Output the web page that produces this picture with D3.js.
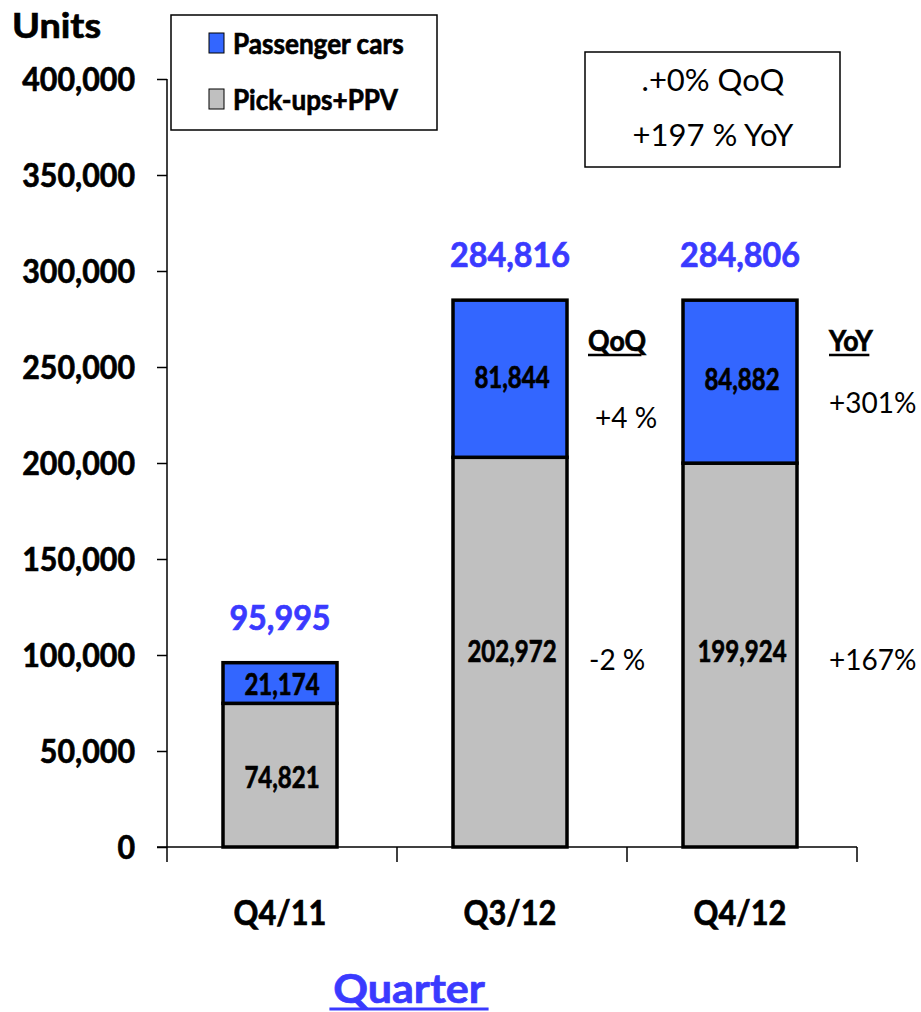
<!DOCTYPE html>
<html>
<head>
<meta charset="utf-8">
<script src="https://cdn.jsdelivr.net/npm/d3@7"></script>
<style>
  body { margin: 0; background: #fff; }
  text { font-family: Lato, "Liberation Sans", sans-serif; }
</style>
</head>
<body>
<div id="chart"></div>
<script>
// chart data
const quarters = ['Q4/11', 'Q3/12', 'Q4/12'];
const pickups = [74821, 202972, 199924];
const passenger = [21174, 81844, 84882];
const totals = [95995, 284816, 284806];
const yTicks = [0, 50000, 100000, 150000, 200000, 250000, 300000, 350000, 400000];
const qoq = ['-2 %', '+4 %'];   // pick-ups, passenger (Q3/12 -> Q4/12)
const yoy = ['+167%', '+301%'];
const summary = ['.+0% QoQ', '+197 % YoY'];
const seriesNames = ['Passenger cars', 'Pick-ups+PPV'];

const svgwidth = 921;
const svgheight = 1012;
const blue = '#3366ff';
const gray = '#c0c0c0';
const labelBlue = '#3a3aff';

// squeeze text horizontally (the original font is a narrow one)
function squeeze(sel, k) {
    sel.each(function () {
        const w = this.getComputedTextLength();
        d3.select(this).attr('textLength', w * k).attr('lengthAdjust', 'spacingAndGlyphs');
    });
    return sel;
}
// heavier bold look
const heavy = (sel, c) => sel.attr('stroke', c || '#000').attr('stroke-width', 0.7);

const svg = d3.select('#chart')
    .append('svg')
    .attr('width', svgwidth)
    .attr('height', svgheight);

const xscale = d3.scaleBand()
    .domain(quarters)
    .range([167, 857])
    .paddingInner(0)
    .paddingOuter(0);

const yscale = d3.scaleLinear()
    .domain([0, 400000])
    .range([847, 79]);

const barW = 114;
const barX = q => xscale(q) + (xscale.bandwidth() - barW) / 2 - 2;

// y axis
const yaxis = d3.axisLeft(yscale)
    .tickValues(yTicks)
    .tickSize(10)
    .tickFormat(d => d === 0 ? '0' : d3.format(',')(d));

const gy = svg.append('g')
    .attr('transform', 'translate(167,0)')
    .call(yaxis);
gy.select('.domain').attr('stroke', '#000').attr('stroke-width', 1.5)
    .attr('d', `M0,${yscale(400000)}V${yscale(0)}`);
gy.selectAll('.tick line').attr('stroke-width', 1.5);
const ytxt = gy.selectAll('.tick text')
    .attr('x', -32)
    .attr('dy', '0.36em')
    .style('font-size', '33px')
    .style('font-weight', 'bold')
    .attr('fill', '#000');
squeeze(ytxt, 0.92);
heavy(ytxt);

// x axis
const gx = svg.append('g')
    .attr('transform', `translate(0,${yscale(0)})`);
gx.append('line')
    .attr('x1', 157).attr('x2', 857)
    .attr('y1', 0).attr('y2', 0)
    .attr('stroke', '#000').attr('stroke-width', 1.5);
const xTickPos = quarters.map(q => xscale(q)).concat([xscale.range()[1]]);
gx.selectAll('.xt')
    .data(xTickPos)
    .join('line')
    .attr('x1', d => d).attr('x2', d => d)
    .attr('y1', 0).attr('y2', 15)
    .attr('stroke', '#000').attr('stroke-width', 1.5);
const xl = gx.selectAll('.xl')
    .data(quarters)
    .join('text')
    .attr('x', d => xscale(d) + xscale.bandwidth() / 2 - 2)
    .attr('y', 78)
    .attr('text-anchor', 'middle')
    .style('font-size', '35px')
    .style('font-weight', 'bold')
    .text(d => d);
squeeze(xl, 0.88);
heavy(xl);

// stacked bars
const g = svg.append('g');
g.selectAll('.pick')
    .data(quarters)
    .join('rect')
    .attr('x', d => barX(d))
    .attr('width', barW)
    .attr('y', (d, i) => yscale(pickups[i]))
    .attr('height', (d, i) => yscale(0) - yscale(pickups[i]))
    .attr('fill', gray)
    .attr('stroke', '#000')
    .attr('stroke-width', 3.5);

g.selectAll('.pass')
    .data(quarters)
    .join('rect')
    .attr('x', d => barX(d))
    .attr('width', barW)
    .attr('y', (d, i) => yscale(pickups[i] + passenger[i]))
    .attr('height', (d, i) => yscale(pickups[i]) - yscale(pickups[i] + passenger[i]))
    .attr('fill', blue)
    .attr('stroke', '#000')
    .attr('stroke-width', 3.5);

// segment labels
const segText = (vals, yfn) => heavy(squeeze(g.selectAll(null)
    .data(quarters)
    .join('text')
    .attr('x', d => barX(d) + barW / 2 + 2)
    .attr('y', yfn)
    .attr('text-anchor', 'middle')
    .attr('dy', '0.36em')
    .style('font-size', '30px')
    .style('font-weight', 'bold')
    .text((d, i) => d3.format(',')(vals[i])), 0.8));

segText(pickups, (d, i) => i === 0 ? yscale(pickups[i] / 2) + 2 : yscale(100000) - 4);
segText(passenger, (d, i) => i === 0 ? yscale(pickups[i] + passenger[i] / 2) + 1 : yscale(pickups[i] + passenger[i] / 2) - 2);

// totals above bars
const tot = g.selectAll('.tot')
    .data(quarters)
    .join('text')
    .attr('x', d => barX(d) + barW / 2)
    .attr('y', (d, i) => yscale(totals[i]) - 45)
    .attr('text-anchor', 'middle')
    .attr('dy', '0.36em')
    .style('font-size', '34px')
    .style('font-weight', 'bold')
    .attr('fill', labelBlue)
    .text((d, i) => d3.format(',')(totals[i]));
squeeze(tot, 0.95);
heavy(tot, labelBlue);

// QoQ / YoY annotations
const colX = [588, 829];
const heads = ['QoQ', 'YoY'];
heads.forEach((h, k) => {
    const t = svg.append('text')
        .attr('x', colX[k])
        .attr('y', 351)
        .style('font-size', '29px')
        .style('font-weight', 'bold')
        .text(h);
    squeeze(t, 0.92);
    heavy(t);
    const w = t.node().getComputedTextLength() * 0.92;
    svg.append('line')
        .attr('x1', colX[k]).attr('x2', colX[k] + w)
        .attr('y1', 355).attr('y2', 355)
        .attr('stroke', '#000').attr('stroke-width', 2.5);
});
const note = (x, y, s) => svg.append('text')
    .attr('x', x).attr('y', y)
    .style('font-size', '28px')
    .text(s);
note(595, 428, qoq[1]);
note(589, 670, qoq[0]);
note(829, 413, yoy[1]);
note(829, 670, yoy[0]);

// Units label
const ut = svg.append('text')
    .attr('x', 12).attr('y', 38)
    .style('font-size', '35px')
    .style('font-weight', 'bold')
    .text('Units');
squeeze(ut, 1.08);
heavy(ut);

// legend
const legend = svg.append('g');
legend.append('rect')
    .attr('x', 171).attr('y', 15)
    .attr('width', 266).attr('height', 115)
    .attr('fill', '#fff').attr('stroke', '#000').attr('stroke-width', 1.5);
const legColors = [blue, gray];
seriesNames.forEach((name, i) => {
    legend.append('rect')
        .attr('x', 209).attr('y', 33 + i * 56)
        .attr('width', 15).attr('height', 20)
        .attr('fill', legColors[i])
        .attr('stroke', '#000').attr('stroke-width', 1);
    const lt = legend.append('text')
        .attr('x', 233).attr('y', 44 + i * 56)
        .attr('dy', '0.36em')
        .style('font-size', '29px')
        .style('font-weight', 'bold')
        .text(name);
    squeeze(lt, 0.9);
    heavy(lt);
});

// summary box
svg.append('rect')
    .attr('x', 585).attr('y', 52)
    .attr('width', 255).attr('height', 115)
    .attr('fill', '#fff').attr('stroke', '#000').attr('stroke-width', 1.5);
summary.forEach((s, i) => {
    svg.append('text')
        .attr('x', 713).attr('y', 80 + i * 55)
        .attr('dy', '0.36em')
        .attr('text-anchor', 'middle')
        .style('font-size', '31px')
        .text(s);
});

// x axis title
const qt = svg.append('text')
    .attr('x', 409).attr('y', 1003)
    .attr('text-anchor', 'middle')
    .style('font-size', '41px')
    .style('font-weight', 'bold')
    .attr('fill', labelBlue)
    .text('Quarter');
squeeze(qt, 1.05);
heavy(qt, labelBlue);
const qw = qt.node().getComputedTextLength() * 1.05;
svg.append('line')
    .attr('x1', 409 - qw / 2).attr('x2', 409 + qw / 2)
    .attr('y1', 1009).attr('y2', 1009)
    .attr('stroke', labelBlue).attr('stroke-width', 3);
</script>
</body>
</html>
